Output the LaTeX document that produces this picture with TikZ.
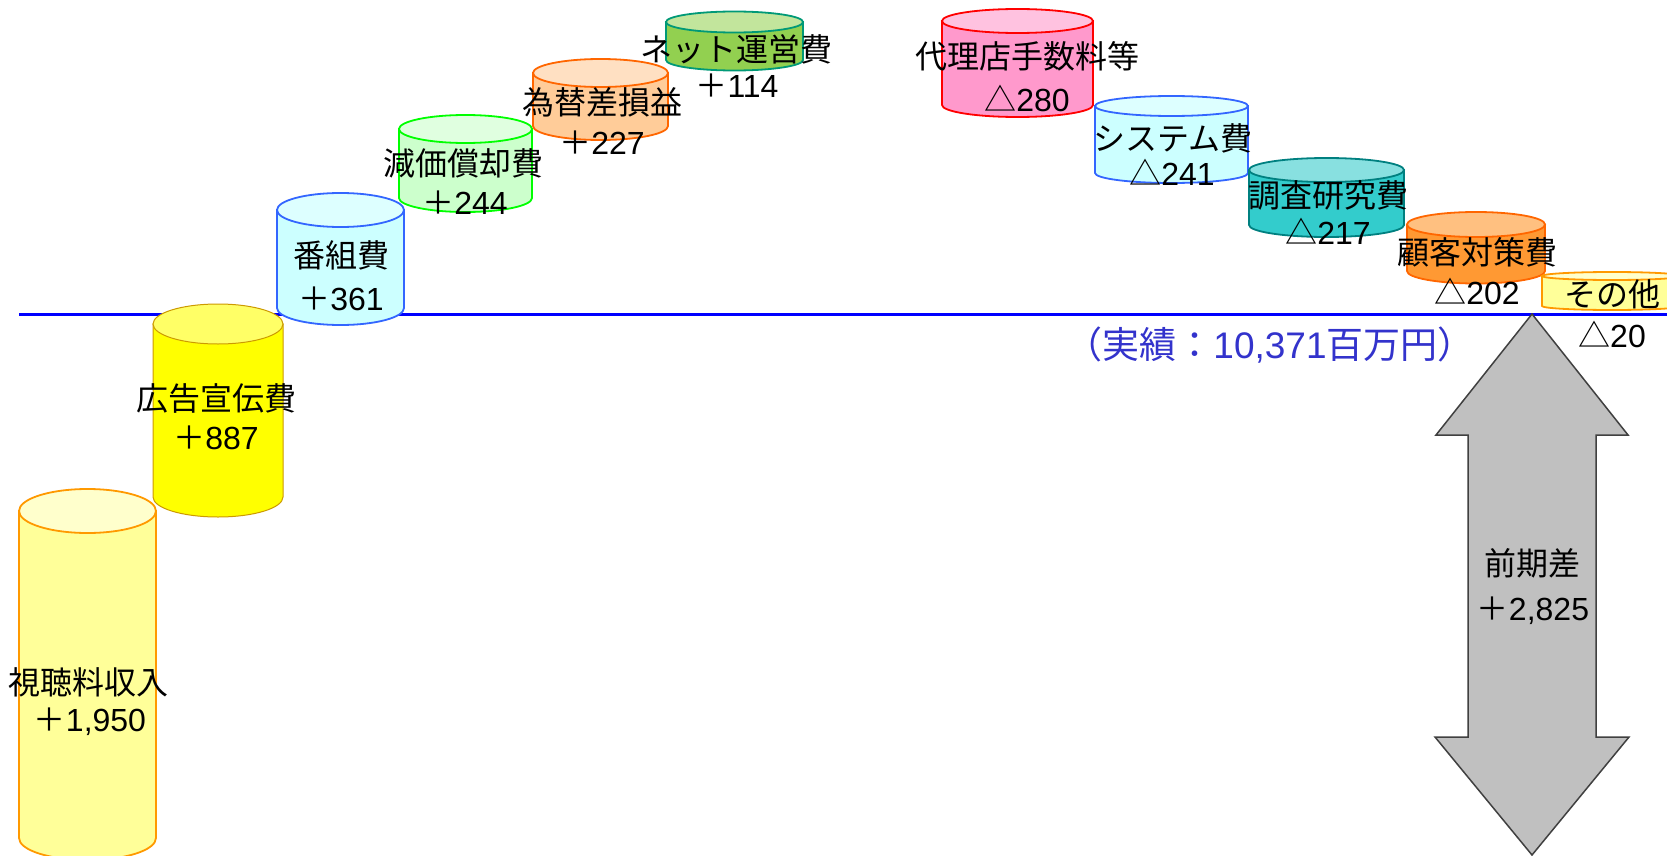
\documentclass[tikz,border=0pt]{standalone}
\usepackage{fontspec}
\setmainfont{Noto Sans CJK JP}
\newfontfamily\lat{Liberation Sans}
\definecolor{lineblue}{HTML}{0000FF}
\definecolor{txtblue}{HTML}{3333CC}
\definecolor{aF}{HTML}{FFFF99}\definecolor{aT}{HTML}{FFFFCC}\definecolor{aS}{HTML}{FF9900}
\definecolor{bF}{HTML}{FFFF00}\definecolor{bT}{HTML}{FFFF66}\definecolor{bS}{HTML}{CC9900}
\definecolor{cF}{HTML}{CCFFFF}\definecolor{cT}{HTML}{DDFFFF}\definecolor{cS}{HTML}{3366FF}
\definecolor{dF}{HTML}{CCFFCC}\definecolor{dT}{HTML}{E0FFE0}\definecolor{dS}{HTML}{00FF00}
\definecolor{eF}{HTML}{FFCC99}\definecolor{eT}{HTML}{FFE0C2}\definecolor{eS}{HTML}{FF6600}
\definecolor{fF}{HTML}{92D050}\definecolor{fT}{HTML}{C2E59C}\definecolor{fS}{HTML}{009977}
\definecolor{gF}{HTML}{FF99CC}\definecolor{gT}{HTML}{FFC2E0}\definecolor{gS}{HTML}{FF0000}
\definecolor{hF}{HTML}{33CCCC}\definecolor{hT}{HTML}{88E0E0}\definecolor{hS}{HTML}{008080}
\definecolor{iF}{HTML}{FF9933}\definecolor{iT}{HTML}{FFC080}\definecolor{iS}{HTML}{FF6600}
\definecolor{arrF}{HTML}{C0C0C0}\definecolor{arrS}{HTML}{404040}
% #1 name, #2 cx, #3 rx, #4 y top centre, #5 y bottom centre, #6 ry, #7 fill, #8 top fill, #9 stroke options
\newcommand\cylshape[9]{%
  \path[fill=#7,cylline,#9] ({#2-#3},#4) -- ({#2-#3},#5)
    arc[start angle=180,end angle=0,x radius=#3,y radius=#6] -- ({#2+#3},#4) -- cycle;
  \path[fill=#8,cylline,#9] (#2,#4) ellipse[x radius=#3,y radius=#6];
  \coordinate (#1) at (#2,#4);
}
\begin{document}
\begin{tikzpicture}[x=1pt,y=-1pt,
  cylline/.style={line width=1.8pt},
  lbl/.style={inner sep=0pt,font=\fontsize{32}{38}\selectfont,text height=28pt,text depth=4pt,anchor=center},
  blbl/.style={inner sep=0pt,font=\fontsize{37}{43}\selectfont,text=txtblue,text height=32.6pt,text depth=4.4pt,anchor=center}]
\useasboundingbox (0,0) rectangle (1667,856);
\clip (0,0) rectangle (1667,856);
\fill[white] (0,0) rectangle (1667,856);
% base line
\coordinate (lineL) at (19,314);
\coordinate (lineR) at (1667,314);
\draw[lineblue,line width=3pt] (lineL) -- (lineR);
% cylinders
\cylshape{c1}{87.5}{68.5}{511}{838}{22}{aF}{aT}{draw=aS}
\cylshape{c2}{218}{65}{324}{497}{20}{bF}{bT}{draw=bS,line width=1pt}
\cylshape{c3}{340.5}{63.5}{210}{308}{17}{cF}{cT}{draw=cS}
\cylshape{c4}{465.5}{66.5}{129}{198}{14}{dF}{dT}{draw=dS}
\cylshape{c5}{600.5}{67.5}{73}{126}{14}{eF}{eT}{draw=eS}
\cylshape{c6}{734.5}{68.5}{22}{60}{10.5}{fF}{fT}{draw=fS}
\cylshape{c7}{1017.5}{75.5}{21}{105}{12}{gF}{gT}{draw=gS}
\cylshape{c8}{1171.5}{76.5}{106}{173}{10}{cF}{cT}{draw=cS}
\cylshape{c9}{1326.5}{77.5}{170}{225}{12}{hF}{hT}{draw=hS}
\cylshape{c10}{1476}{69}{224.5}{271}{12.5}{iF}{iT}{draw=iS}
\cylshape{c11}{1612}{70}{276}{306}{4}{aF}{aT}{draw=aS}
% labels
\node[lbl] (t1a) at (89,682) {視聴料収入};
\node[lbl] (t1b) at (90,719) {＋{\lat 1,950}};
\node[lbl] (t2a) at (216,398) {広告宣伝費};
\node[lbl] (t2b) at (216,437) {＋{\lat 887}};
\node[lbl] (t3a) at (341,255) {番組費};
\node[lbl] (t3b) at (341,298) {＋{\lat 361}};
\node[lbl] (t4a) at (463,163) {減価償却費};
\node[lbl] (t4b) at (465,202) {＋{\lat 244}};
\node[lbl] (t5a) at (602,103) {為替差損益};
\node[lbl] (t5b) at (602,142) {＋{\lat 227}};
\node[lbl] (t6a) at (736,50) {ネット運営費};
\node[lbl] (t6b) at (737,86) {＋{\lat 114}};
\node[lbl] (t7a) at (1027,57) {代理店手数料等};
\node[lbl] (t7b) at (1027,100) {△{\lat 280}};
\node[lbl] (t8a) at (1173,138) {システム費};
\node[lbl] (t8b) at (1172,173) {△{\lat 241}};
\node[lbl] (t9a) at (1328,195) {調査研究費};
\node[lbl] (t9b) at (1328,232) {△{\lat 217}};
\node[lbl] (t10a) at (1477,252) {顧客対策費};
\node[lbl] (t10b) at (1477,292) {△{\lat 202}};
\node[lbl] (t11a) at (1612,294) {その他};
\node[lbl] (t11b) at (1612,335) {△{\lat 20}};
% result text
\node[blbl] (res) at (1270,344) {（実績：{\lat 10,371}百万円）};
% double arrow
\path[fill=arrF,draw=arrS,line width=1.5pt,line join=miter]
  (1532,314) -- (1628,435) -- (1596,435) -- (1596,737) -- (1629,737) -- (1532,855)
  -- (1435,737) -- (1468,737) -- (1468,435) -- (1436,435) -- cycle;
\node[lbl] (ar1) at (1532,563) {前期差};
\node[lbl] (ar2) at (1533,608) {＋{\lat 2,825}};
\end{tikzpicture}
\end{document}
